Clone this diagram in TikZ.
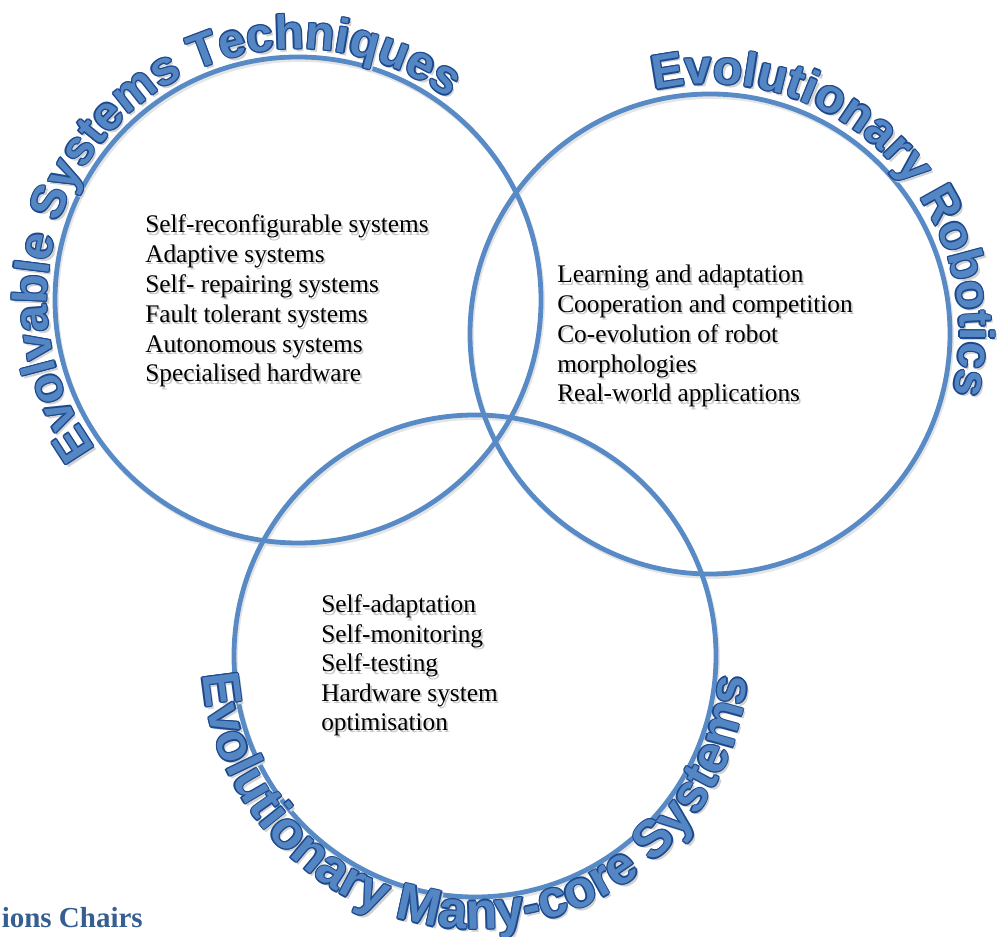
\documentclass[tikz,border=0pt]{standalone}
\usepackage{fontspec}
\setmainfont{Liberation Serif}
\newfontfamily\labelfont{Liberation Sans}
\usetikzlibrary{decorations.text}

\definecolor{ringblue}{RGB}{88,138,198}
\definecolor{lblfill}{RGB}{84,134,196}
\definecolor{lblout}{RGB}{28,72,140}
\definecolor{chairblue}{RGB}{54,95,145}

\tikzset{
  ringline/.style={draw=ringblue, line width=3.6pt},
  ringshadow/.style={draw=black!10, line width=3.6pt},
  itemtext/.style={anchor=base west, inner sep=0pt, font=\fontsize{19}{22}\selectfont, text=black},
  itemshadow/.style={itemtext, text=black!22},
}

% name, x, y, text
\newcommand{\itemline}[4]{%
  \node[itemshadow] (#1s) at (#2+1.8,#3-2.2) {#4};
  \node[itemtext] (#1) at (#2,#3) {#4};
}

% center, radius, start, end, size(pt), text
\newcommand{\arclabel}[6]{%
  \path[decorate, decoration={text along path, text align=center, text color=black!18,
      text={|\labelfont\bfseries\fontsize{#5}{#5}\selectfont|#6}}]
      ([shift={(2.5,-3)}]#1) ++(#3:#2) arc[start angle=#3, end angle=#4, radius=#2];
  \foreach \dx/\dy in {1/0,-1/0,0/1,0/-1,0.7/0.7,-0.7/0.7,0.7/-0.7,-0.7/-0.7}{
    \path[decorate, decoration={text along path, text align=center, text color=lblout,
        text={|\labelfont\bfseries\fontsize{#5}{#5}\selectfont|#6}}]
        ([shift={(\dx*1.3,\dy*1.3)}]#1) ++(#3:#2) arc[start angle=#3, end angle=#4, radius=#2];
  }
  \path[decorate, decoration={text along path, text align=center, text color=lblfill,
      text={|\labelfont\bfseries\fontsize{#5}{#5}\selectfont|#6}}]
      (#1) ++(#3:#2) arc[start angle=#3, end angle=#4, radius=#2];
}

\begin{document}
\begin{tikzpicture}[x=0.75pt, y=0.75pt]
\useasboundingbox (0,0) rectangle (998,937);

\coordinate (c1) at (298,637);
\coordinate (c2) at (710,603);
\coordinate (c3) at (475,281);

% circle shadows
\draw[ringshadow] ([shift={(1.5,-2.5)}]c1) circle[radius=243];
\draw[ringshadow] ([shift={(1.5,-2.5)}]c2) circle[radius=240];
\draw[ringshadow] ([shift={(1.5,-2.5)}]c3) circle[radius=241];

% circles
\draw[ringline] (c1) circle[radius=243];
\draw[ringline] (c2) circle[radius=240];
\draw[ringline] (c3) circle[radius=241];

% curved labels
\arclabel{c1}{251}{224.8}{44.8}{36}{Evolvable Systems Techniques}
\arclabel{c2}{250}{134.5}{-45.5}{36}{Evolutionary Robotics}
\arclabel{c3}{273}{179.65}{359.65}{39}{Evolutionary Many-core Systems}

% block 1
\itemline{a1}{145}{704}{Self-reconfigurable systems}
\itemline{a2}{145}{674.2}{Adaptive systems}
\itemline{a3}{145}{644.4}{Self- repairing systems}
\itemline{a4}{145}{614.6}{Fault tolerant systems}
\itemline{a5}{145}{584.8}{Autonomous systems}
\itemline{a6}{145}{555}{Specialised hardware}

% block 2
\itemline{b1}{557}{654}{Learning and adaptation}
\itemline{b2}{557}{624.2}{Cooperation and competition}
\itemline{b3}{557}{594.5}{Co-evolution of robot}
\itemline{b4}{557}{564.7}{morphologies}
\itemline{b5}{557}{535}{Real-world applications}

% block 3
\itemline{d1}{321}{324}{Self-adaptation}
\itemline{d2}{321}{294.5}{Self-monitoring}
\itemline{d3}{321}{265}{Self-testing}
\itemline{d4}{321}{235.5}{Hardware system}
\itemline{d5}{321}{206.5}{optimisation}

% bottom-left fragment
\node[anchor=base west, inner sep=0pt, text=chairblue, font=\bfseries\fontsize{21.75}{24}\selectfont] (chairs) at (1.5,9) {ions Chairs};
\end{tikzpicture}
\end{document}
